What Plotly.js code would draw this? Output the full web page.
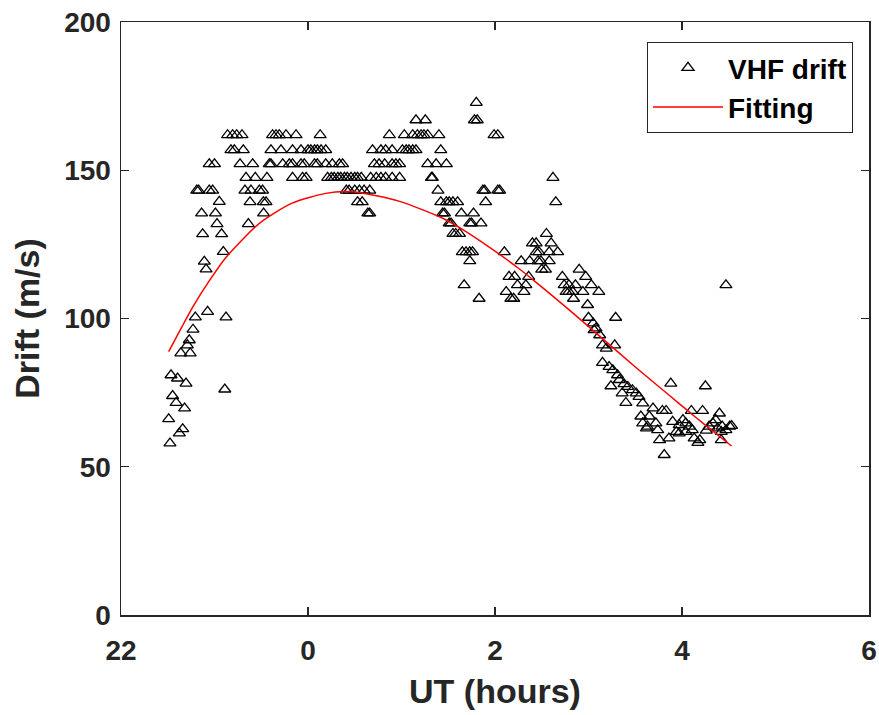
<!DOCTYPE html>
<html>
<head>
<meta charset="utf-8">
<script src="https://cdn.plot.ly/plotly-3.0.1.min.js"></script>
<style>html,body{margin:0;padding:0;background:#fff;}#chart{width:879px;height:715px;}</style>
</head>
<body>
<div id="chart"></div>
<script>
// UT in hours relative to midnight (22 UT = -2)
const xTickVals = [-2, 0, 2, 4, 6];
const xTickText = ['22', '0', '2', '4', '6'];
const yTickVals = [0, 50, 100, 150, 200];

// VHF drift observations (hours, m/s)
const driftUT = [
  // evening low cluster
  -1.49,-1.476,-1.465,-1.448,-1.41,-1.395,-1.376,-1.36,-1.34,-1.32,-1.305,-1.29,-1.27,-1.26,-1.23,-1.205,-1.074,-0.89,-0.877,
  -1.127,-1.109,-1.09,-0.924,-0.906,-1.138,-0.99,-0.973,-0.949,-0.638,-0.475,
  // ~162
  -0.86,-0.806,-0.763,-0.706,-0.379,-0.342,-0.307,-0.235,-0.128,0.13,0.87,1.03,1.12,1.17,1.21,1.24,1.28,1.40,1.99,2.03,
  // ~157
  -0.824,-0.788,-0.692,-0.396,-0.289,-0.165,-0.075,0,0.03,0.07,0.10,0.14,0.19,0.69,0.78,0.83,0.90,1.01,1.05,1.08,1.12,1.155,1.42,
  // ~152
  -1.056,-1.0,-0.727,-0.592,-0.414,-0.396,-0.27,-0.2,-0.165,-0.075,-0.04,0.07,0.10,0.19,0.26,0.335,0.37,0.71,0.76,0.82,0.90,0.94,0.98,1.28,1.37,1.48,
  // ~147.5
  -0.663,-0.564,-0.439,-0.165,-0.058,-0.02,0.21,0.25,0.28,0.32,0.35,0.39,0.42,0.46,0.50,0.53,0.57,0.67,0.73,0.78,0.83,0.90,0.98,1.32,1.33,2.62,
  // ~143
  -1.19,-1.17,-1.056,-1.02,-0.674,-0.61,-0.52,-0.486,0.41,0.44,0.50,0.55,0.60,0.66,1.39,1.87,1.89,2.03,2.05,
  // ~139
  -0.62,-0.478,-0.449,0.53,0.58,1.42,1.48,1.51,1.55,1.60,1.90,2.65,
  // ~135.5
  0.64,0.66,1.44,1.46,1.64,1.77,
  // ~132
  1.51,1.53,1.73,1.75,1.85,
  // ~128.6
  1.55,1.58,1.62,2.55,
  // ~167, ~173
  1.155,1.255,1.78,1.81,1.80,
  // ~125
  2.40,2.44,2.60,
  // ~122
  1.65,1.69,1.73,1.76,2.10,2.44,2.47,2.58,2.67,
  // ~119
  1.73,2.28,2.37,2.46,2.49,2.58,
  // ~116.5
  2.50,2.54,2.90,
  // ~114
  2.15,2.21,2.36,2.72,2.97,
  // ~111
  1.67,2.24,2.33,2.74,2.79,2.86,3.03,4.47,
  // ~109
  2.12,2.31,2.76,2.79,2.83,2.94,3.11,
  // ~106.7
  1.83,2.17,2.20,2.84,
  2.99,3.0,3.29,
  // descending tail
  3.05,3.08,3.06,3.12,3.15,3.19,3.28,3.15,3.22,3.26,3.31,3.33,3.38,3.42,3.47,3.51,3.54,3.24,3.36,3.40,3.58,3.88,4.25,
  3.69,3.79,3.83,4.10,4.22,4.40,
  3.56,3.65,3.58,3.63,3.62,3.72,3.74,3.90,3.97,4.01,4.04,4.08,3.94,3.86,3.97,4.04,4.11,4.13,4.17,4.19,4.26,4.29,4.33,4.36,4.38,4.42,4.43,4.47,4.51,4.53,4.42,3.76,3.81
];
const driftSpeed = [
  66.1,57.9,80.9,73.9,71.6,79.8,61.3,88.3,62.7,69.7,78.1,91.0,92.7,88.3,96.3,100.4,102.3,76.1,100.4,
  128.5,119.2,116.6,128.5,122.5,135.5,135.5,131.9,139.4,131.9,135.5,
  161.9,161.9,161.9,161.9,161.9,161.9,161.9,161.9,161.9,161.9,161.9,161.9,161.9,161.9,161.9,161.9,161.9,161.9,161.9,161.9,
  156.8,156.8,156.8,156.8,156.8,156.8,156.8,156.8,156.8,156.8,156.8,156.8,156.8,156.8,156.8,156.8,156.8,156.8,156.8,156.8,156.8,156.8,156.8,
  152.1,152.1,152.1,152.1,152.1,152.1,152.1,152.1,152.1,152.1,152.1,152.1,152.1,152.1,152.1,152.1,152.1,152.1,152.1,152.1,152.1,152.1,152.1,152.1,152.1,152.1,
  147.5,147.5,147.5,147.5,147.5,147.5,147.5,147.5,147.5,147.5,147.5,147.5,147.5,147.5,147.5,147.5,147.5,147.5,147.5,147.5,147.5,147.5,147.5,147.5,147.5,147.5,
  143.2,143.2,143.2,143.2,143.2,143.2,143.2,143.2,143.2,143.2,143.2,143.2,143.2,143.2,143.2,143.2,143.2,143.2,143.2,
  139.3,139.3,139.3,139.3,139.3,139.3,139.3,139.3,139.3,139.3,139.3,139.3,
  135.5,135.5,135.5,135.5,135.5,135.5,
  132.1,132.1,132.1,132.1,132.1,
  128.6,128.6,128.6,128.6,
  166.9,166.9,166.9,166.9,172.8,
  125.4,125.4,125.4,
  122.4,122.4,122.4,122.4,122.4,122.4,122.4,122.4,122.4,
  119.4,119.4,119.4,119.4,119.4,119.4,
  116.5,116.5,116.5,
  114.1,114.1,114.1,114.1,114.1,
  111.3,111.3,111.3,111.3,111.3,111.3,111.3,111.3,
  109.0,109.0,109.0,109.0,109.0,109.0,109.0,
  106.7,106.7,106.7,106.7,
  104.6,100.3,100.3,
  98.4,96.7,96.1,94.4,91.0,89.9,91.0,85.1,83.7,82.6,80.9,79.3,77.9,77.0,75.9,74.8,73.6,77.2,74.8,71.6,71.4,78.1,77.2,
  69.7,68.9,68.9,68.9,68.9,68.0,
  67.0,67.0,64.7,63.6,63.0,64.7,62.4,65.2,64.1,65.8,64.7,63.6,61.8,59.6,61.3,61.8,62.4,59.6,58.1,59.0,62.2,63.6,64.7,65.8,63.0,61.8,63.6,62.4,63.6,63.8,59.0,59.0,54.0
];

// Fitted curve
const fitUT = [-1.49,-1.23,-1.06,-0.88,-0.52,-0.17,0.19,0.41,0.62,0.98,1.44,1.69,2.05,2.24,2.44,2.79,3.15,3.51,3.86,4.08,4.22,4.53];
const fitSpeed = [88.8,104,112.5,120.5,132.1,138.9,142.2,142.8,142.1,139.5,133.8,129.3,121.6,117.2,112.2,103.0,93.2,83.4,74.2,68.4,64.8,57.0];

const FONT = 'Liberation Sans, Arial, Helvetica, sans-serif';
const INK = '#262626';

const traces = [
  {
    x: driftUT, y: driftSpeed, type: 'scatter', mode: 'markers', name: 'VHF drift',
    legendgroup: 'a',
    marker: {symbol: 'triangle-up-open', size: 10.5, color: '#000', line: {color: '#000', width: 1.3}}
  },
  {
    x: fitUT, y: fitSpeed, type: 'scatter', mode: 'lines', name: 'Fitting',
    legendgroup: 'b',
    line: {color: '#ff0000', width: 1.5, shape: 'spline', smoothing: 0.7}
  }
];

const layout = {
  width: 879, height: 715,
  margin: {l: 121, r: 10, t: 22, b: 100, pad: 0},
  paper_bgcolor: '#fff', plot_bgcolor: '#fff',
  showlegend: true,
  xaxis: {
    range: [-2, 6], tickvals: xTickVals, ticktext: xTickText,
    ticks: 'inside', ticklen: 8, tickwidth: 1.3, tickcolor: INK,
    showline: true, linecolor: INK, linewidth: 1.5, mirror: 'ticks',
    showgrid: false, zeroline: false, ticklabelstandoff: 10,
    tickfont: {family: FONT, size: 28, color: INK, weight: 'bold'},
    title: {text: 'UT (hours)', font: {family: FONT, size: 34, color: INK, weight: 'bold'}, standoff: 14}
  },
  yaxis: {
    range: [0, 200], tickvals: yTickVals,
    ticks: 'inside', ticklen: 8, tickwidth: 1.3, tickcolor: INK,
    showline: true, linecolor: INK, linewidth: 1.5, mirror: 'ticks',
    showgrid: false, zeroline: false, ticklabelstandoff: 3,
    tickfont: {family: FONT, size: 28, color: INK, weight: 'bold'},
    title: {text: 'Drift (m/s)', font: {family: FONT, size: 34, color: INK, weight: 'bold'}, standoff: 14}
  },
  legend: {
    x: 0.9786, y: 0.9663, xanchor: 'right', yanchor: 'top',
    bgcolor: '#fff', bordercolor: INK, borderwidth: 1,
    font: {family: FONT, size: 28, color: '#000', weight: 'bold'},
    itemwidth: 70, traceorder: 'grouped', tracegroupgap: 0
  }
};

Plotly.newPlot('chart', traces, layout, {displayModeBar: false, staticPlot: true});
</script>
</body>
</html>
